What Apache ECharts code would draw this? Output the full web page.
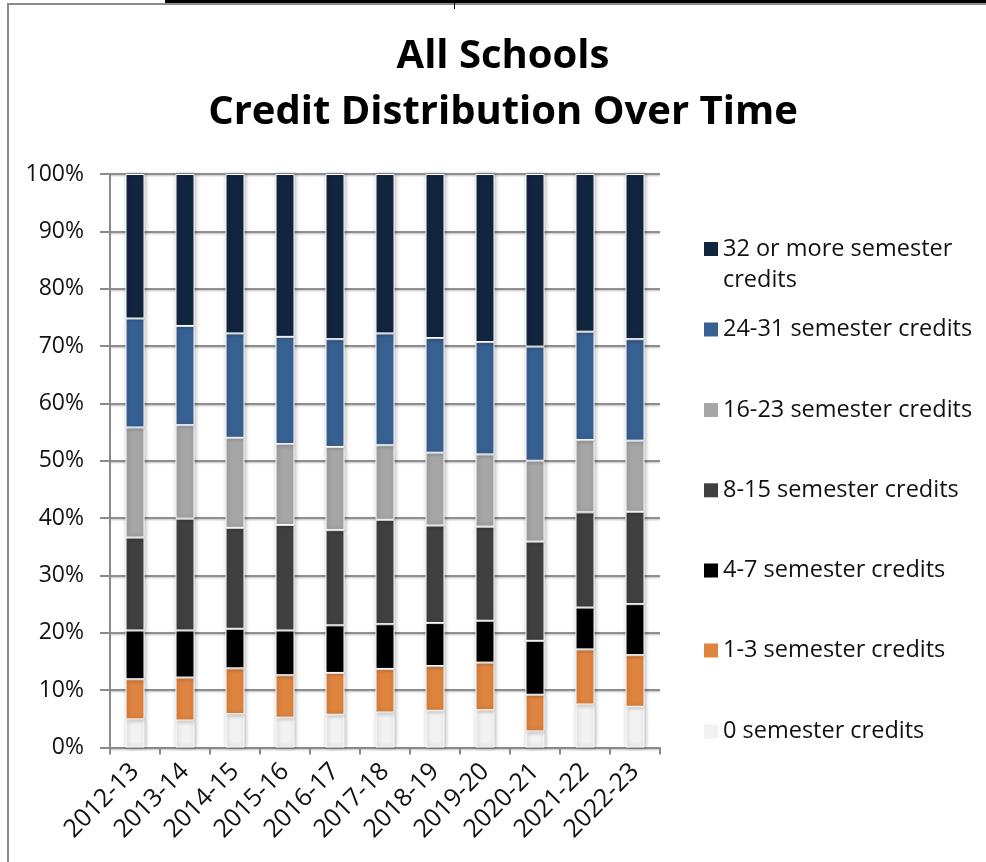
<!DOCTYPE html>
<html>
<head>
<meta charset="utf-8">
<script src="https://cdn.jsdelivr.net/npm/echarts@6/dist/echarts.min.js"></script>
<style>
  html, body { margin: 0; padding: 0; background: #fff; }
  #chart { width: 986px; height: 862px; }
</style>
</head>
<body>
<div id="chart"></div>
<script>
// ---- Data (percent of students) ----
var years = ['2012-13','2013-14','2014-15','2015-16','2016-17','2017-18','2018-19','2019-20','2020-21','2021-22','2022-23'];
var yTicks = [0,10,20,30,40,50,60,70,80,90,100];
var credits0     = [4.9, 4.7, 5.8, 5.2, 5.7, 6.1, 6.4, 6.5, 2.8, 7.5, 7.1];
var credits1to3  = [7.0, 7.5, 8.0, 7.4, 7.3, 7.6, 7.8, 8.3, 6.4, 9.6, 9.0];
var credits4to7  = [8.5, 8.2, 6.9, 7.8, 8.3, 7.8, 7.5, 7.3, 9.4, 7.3, 8.9];
var credits8to15 = [16.2, 19.5, 17.6, 18.4, 16.6, 18.2, 17.0, 16.4, 17.3, 16.6, 16.1];
var credits16to23 = [19.2, 16.3, 15.7, 14.1, 14.5, 13.0, 12.7, 12.6, 14.1, 12.6, 12.4];
var credits24to31 = [19.0, 17.3, 18.2, 18.7, 18.8, 19.5, 20.0, 19.6, 19.9, 18.9, 17.7];
var credits32plus = [25.2, 26.5, 27.8, 28.4, 28.8, 27.8, 28.6, 29.3, 30.1, 27.5, 28.8];

var seriesNames = ['0 semester credits','1-3 semester credits','4-7 semester credits','8-15 semester credits','16-23 semester credits','24-31 semester credits','32 or more semester credits'];
var seriesData = [credits0, credits1to3, credits4to7, credits8to15, credits16to23, credits24to31, credits32plus];
var seriesColors = ['#f2f2f2','#de843f','#000000','#404040','#a6a6a6','#386193','#12253f'];

var FONT = '"Open Sans", "Noto Sans", sans-serif';

var chart = echarts.init(document.getElementById('chart'), null, {renderer: 'canvas'});

var series = seriesNames.map(function (name, i) {
  return {
    name: name,
    type: 'bar',
    stack: 'total',
    barWidth: 19,
    data: seriesData[i],
    itemStyle: {
      color: seriesColors[i],
      borderColor: '#ffffff',
      borderWidth: 1,
      shadowBlur: 4,
      shadowColor: 'rgba(0,0,0,0.3)',
      shadowOffsetX: 1,
      shadowOffsetY: 0
    },
    emphasis: { disabled: true }
  };
});

// legend entries, top to bottom, with the vertical centre of each entry's first line
var legendOrder = [6,5,4,3,2,1,0];
var legendCenters = [249, 329.5, 410, 490.3, 570.5, 650.5, 731.4];
var legends = legendOrder.map(function (si, k) {
  var isFirst = (k === 0);
  return {
    data: [seriesNames[si]],
    orient: 'vertical',
    left: 704,
    top: isFirst ? legendCenters[k] - 31 - 15.5 : legendCenters[k] - 15.5,
    padding: 0,
    itemWidth: 14,
    itemHeight: 14,
    icon: 'rect',
    selectedMode: false,
    itemStyle: { borderWidth: 0, shadowBlur: 0 },
    formatter: isFirst ? function () { return '\n32 or more semester\ncredits'; } : '{name}',
    textStyle: {
      fontFamily: FONT,
      fontSize: 23.5,
      color: '#111111',
      lineHeight: 31
    }
  };
});

var option = {
  backgroundColor: '#ffffff',
  animation: false,
  title: {
    text: 'All Schools\nCredit Distribution Over Time',
    left: 503,
    textAlign: 'center',
    top: 29,
    padding: 0,
    textStyle: {
      fontFamily: FONT,
      fontWeight: 'bold',
      fontSize: 40,
      lineHeight: 56,
      color: '#000000'
    }
  },
  legend: legends,
  grid: { left: 110, right: 326, top: 174, bottom: 114.5, containLabel: false },
  xAxis: {
    type: 'category',
    data: years,
    boundaryGap: true,
    axisLine: { show: true, lineStyle: { color: '#8a8a8a', width: 2 } },
    axisTick: { show: true, alignWithLabel: false, length: 7, lineStyle: { color: '#8a8a8a', width: 2 } },
    axisLabel: {
      rotate: 45,
      margin: 20,
      interval: 0,
      fontFamily: FONT,
      fontSize: 25,
      color: '#111111'
    },
    splitLine: { show: false }
  },
  yAxis: {
    type: 'value',
    min: 0,
    max: 100,
    interval: 10,
    axisLine: { show: true, lineStyle: { color: '#8a8a8a', width: 2 } },
    axisTick: { show: true, length: 10, lineStyle: { color: '#8a8a8a', width: 2 } },
    axisLabel: {
      margin: 26,
      fontFamily: FONT,
      fontSize: 23,
      color: '#111111',
      formatter: function (v) { return yTicks.indexOf(v) >= 0 ? v + '%' : ''; }
    },
    splitLine: {
      show: true,
      lineStyle: { color: '#8f8f8f', width: 2, shadowBlur: 2, shadowColor: 'rgba(0,0,0,0.25)', shadowOffsetY: 1 }
    }
  },
  graphic: [
    { type: 'rect', silent: true, z: 100, shape: { x: 8, y: 4, width: 1000, height: 900 },
      style: { fill: 'none', stroke: '#8c8c8c', lineWidth: 2 } },
    { type: 'rect', silent: true, z: 101, shape: { x: 165, y: 0, width: 821, height: 3 },
      style: { fill: '#000000' } },
    { type: 'rect', silent: true, z: 101, shape: { x: 454, y: 0, width: 1, height: 9 },
      style: { fill: '#000000' } }
  ],
  series: series
};

chart.setOption(option);
</script>
</body>
</html>
